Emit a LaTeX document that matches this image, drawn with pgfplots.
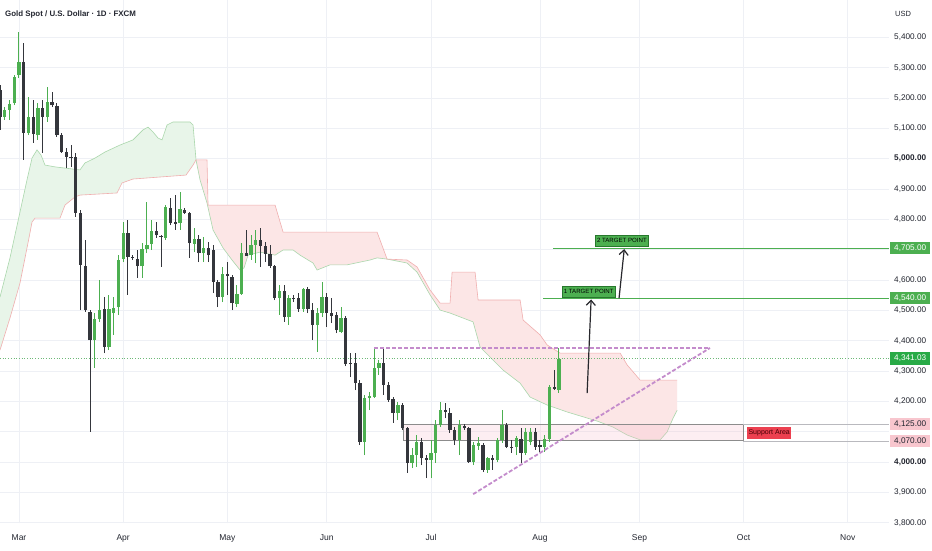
\documentclass[border=0pt]{standalone}
\usepackage{pgfplots}
\usepackage{pgfplotstable}
\pgfplotsset{compat=1.18}
\usetikzlibrary{arrows.meta}
\usepackage{fontspec}
\setmainfont{Liberation Sans}

\definecolor{upc}{RGB}{76,175,80}
\definecolor{dnc}{RGB}{52,54,60}
\definecolor{gridc}{RGB}{238,240,245}
\definecolor{txt}{RGB}{35,38,48}
\definecolor{cloudg}{RGB}{232,245,233}
\definecolor{cloudr}{RGB}{252,230,230}
\definecolor{spanA}{RGB}{170,215,172}
\definecolor{spanB}{RGB}{240,175,175}
\definecolor{purp}{RGB}{196,140,204}
\definecolor{tgt}{RGB}{76,175,80}
\definecolor{lastg}{RGB}{40,170,70}
\definecolor{pinkbox}{RGB}{248,198,206}
\definecolor{supred}{RGB}{236,64,80}

% up candles: index open high low close
\pgfplotstableread{
i o h l c
-3 5137 5170 5128 5161
-2 5161 5193 5128 5180
-1 5184 5276 5177 5269
0 5276 5418 5266 5319
2 5085 5203 5078 5137
4 5078 5184 5062 5167
6 5137 5236 5121 5187
16 4402 4491 4310 4471
17 4471 4600 4462 4501
19 4379 4551 4369 4504
20 4491 4544 4419 4508
21 4511 4682 4485 4666
22 4669 4791 4659 4755
26 4646 4722 4607 4702
27 4702 4857 4689 4716
28 4719 4798 4699 4762
31 4739 4847 4732 4841
34 4788 4890 4765 4834
37 4719 4771 4692 4735
39 4689 4742 4659 4706
43 4544 4643 4527 4620
46 4521 4584 4511 4554
47 4554 4722 4551 4689
49 4682 4748 4666 4716
50 4716 4765 4656 4732
55 4541 4584 4485 4564
57 4478 4551 4452 4541
60 4504 4574 4495 4570
63 4452 4508 4363 4491
64 4491 4593 4478 4544
68 4429 4511 4425 4475
73 4066 4221 4023 4211
74 4211 4231 4171 4218
75 4214 4376 4211 4310
76 4310 4336 4287 4326
80 4162 4198 4138 4188
83 3997 4046 3980 4023
84 4023 4089 3984 4066
87 4007 4073 3947 4030
88 4030 4138 3997 4122
89 4122 4198 4115 4171
93 4073 4138 4023 4122
96 4000 4066 3990 4056
97 4053 4082 4040 4063
99 3974 4016 3964 4013
101 4007 4079 4000 4073
102 4073 4171 4063 4122
105 4049 4086 4023 4079
107 4030 4112 4023 4099
108 4066 4112 4056 4099
111 4049 4089 4033 4076
112 4076 4254 4066 4247
114 4237 4376 4228 4341.03
}\up

% down candles: index open high low close
\pgfplotstableread{
i o h l c
-4 5226 5243 5095 5137
1 5319 5381 4996 5085
3 5137 5193 5052 5081
5 5167 5193 5019 5137
7 5187 5220 5170 5177
8 5174 5184 5072 5078
9 5078 5085 5019 5022
10 5022 5035 4969 5006
11 5006 5045 4973 5002
12 5006 5019 4808 4821
13 4821 4831 4501 4650
14 4646 4732 4495 4501
15 4495 4501 4099 4402
18 4504 4544 4359 4379
23 4755 4798 4551 4676
24 4676 4682 4666 4673
25 4669 4699 4607 4646
29 4762 4791 4739 4748
30 4745 4748 4643 4742
32 4837 4870 4781 4788
33 4791 4880 4765 4785
35 4831 4837 4818 4821
36 4821 4824 4673 4722
38 4735 4748 4659 4689
40 4706 4725 4659 4682
41 4700 4716 4557 4593
42 4593 4600 4511 4544
44 4620 4659 4551 4613
45 4610 4617 4501 4524
48 4689 4765 4682 4680
51 4732 4771 4643 4712
52 4712 4725 4659 4686
53 4686 4716 4640 4646
54 4646 4650 4534 4541
56 4564 4584 4462 4478
58 4541 4551 4527 4537
59 4541 4557 4495 4504
61 4570 4577 4491 4504
62 4501 4524 4402 4452
65 4544 4557 4445 4491
66 4491 4541 4458 4481
67 4485 4495 4425 4435
69 4475 4481 4316 4323
70 4326 4359 4280 4323
71 4326 4359 4237 4260
72 4260 4270 4056 4066
77 4326 4376 4221 4254
78 4254 4264 4198 4204
79 4208 4214 4129 4162
81 4188 4194 4105 4112
82 4112 4115 3964 3997
85 4066 4079 3990 4013
86 4013 4023 3947 4007
90 4171 4194 4145 4165
91 4162 4178 4096 4105
92 4105 4115 4056 4073
94 4119 4125 4105 4112
95 4112 4115 3997 4000
98 4056 4063 3967 3974
100 4013 4023 3974 4007
103 4122 4129 4046 4049
104 4049 4073 4030 4046
106 4076 4112 3997 4030
109 4099 4112 4040 4049
110 4056 4073 4033 4049
113 4247 4303 4237 4241
}\dn

\begin{document}
\begin{tikzpicture}
\useasboundingbox (0,0) rectangle (932pt,550pt);
\fill[white] (0,0) rectangle (932pt,550pt);
\begin{axis}[
  at={(0pt,27pt)}, anchor=south west,
  width=889pt, height=523pt, scale only axis,
  xmin=-4.01, xmax=183.7, ymin=3798.9, ymax=5523.2,
  axis line style={draw=none}, tick style={draw=none},
  xtick={0,22,44,65,87,110,131,153,175},
  xticklabels={Mar,Apr,May,Jun,Jul,Aug,Sep,Oct,Nov},
  ytick={3800,3900,4000,4100,4200,4300,4400,4500,4600,4700,4800,4900,5000,5100,5200,5300,5400},
  yticklabels={{3,800.00},{3,900.00},{\bfseries 4,000.00},{},{4,200.00},{4,300.00},{4,400.00},{4,500.00},{4,600.00},{},{4,800.00},{4,900.00},{\bfseries 5,000.00},{5,100.00},{5,200.00},{5,300.00},{5,400.00}},
  yticklabel pos=right,
  grid=major, major grid style={color=gridc, line width=0.7pt},
  xticklabel style={font=\fontsize{8.5}{10}\selectfont, text=txt, anchor=base, inner sep=0pt, yshift=-17.5pt},
  yticklabel style={font=\fontsize{8.2}{10}\selectfont, text=txt, anchor=west, inner sep=0pt, xshift=5pt},
  clip=false,
]
% Ichimoku cloud fills
\addplot[fill=cloudg, draw=none] coordinates {
(-4.01,4544) (-1.90,4673) (0.21,4824) (1.69,4930) (2.75,5002) (3.80,5029) (4.65,5012) (5.49,4979) (7.60,4973) (12.88,4963) (13.94,4986) (16.05,5002) (18.16,5022) (21.33,5045) (24.08,5062) (26.19,5095) (27.24,5104) (28.30,5088) (29.36,5068) (30.20,5062) (31.26,5111) (32.52,5121) (36.11,5121) (36.75,5111) (37.38,4996)
(36.75,4979) (35.27,4946) (24.08,4933) (21.75,4920) (20.70,4887) (12.88,4880) (11.83,4874) (9.71,4847) (8.66,4804) (3.38,4804) (2.75,4791) (1.90,4722) (0.21,4590) (-1.90,4475) (-4.01,4369)};
\addplot[fill=cloudr, draw=none] coordinates {
(37.38,4996) (39.70,4996) (39.92,4847) (54.07,4847) (55.76,4758) (75.61,4758) (77.72,4669) (81.94,4666) (84.05,4643) (86.80,4567) (88.91,4524) (91.02,4524) (91.45,4626) (96.30,4626) (96.94,4534) (105.81,4534) (106.44,4468) (110.03,4419) (111.51,4386) (114.25,4359) (126.93,4359) (128.41,4320) (131.15,4270) (138.97,4270)
(138.97,4171) (138.12,4145) (136.85,4099) (135.38,4073) (131.15,4073) (128.41,4089) (125.45,4115) (122.07,4135) (115.73,4165) (111.51,4188) (107.92,4214) (105.81,4260) (102.22,4303) (97.36,4379) (95.88,4462) (91.02,4491) (88.91,4501) (86.80,4551) (84.05,4626) (81.94,4656) (77.72,4669) (75.61,4673) (74.13,4666) (69.27,4650) (65.68,4650) (62.94,4633) (62.09,4656) (59.35,4682) (57.87,4699) (55.76,4699) (54.07,4682) (50.90,4692) (48.36,4682) (47.52,4640) (46.67,4633) (44.98,4666) (43.08,4706) (40.97,4765) (39.70,4854) (38.23,4930) (37.38,4996)};
% Span A
\addplot[spanA, line width=0.6pt] coordinates {
(-4.01,4544) (-1.90,4673) (0.21,4824) (1.69,4930) (2.75,5002) (3.80,5029) (4.65,5012) (5.49,4979) (7.60,4973) (12.88,4963) (13.94,4986) (16.05,5002) (18.16,5022) (21.33,5045) (24.08,5062) (26.19,5095) (27.24,5104) (28.30,5088) (29.36,5068) (30.20,5062) (31.26,5111) (32.52,5121) (36.11,5121) (36.75,5111) (37.38,4996)
(38.23,4930) (39.70,4854) (40.97,4765) (43.08,4706) (44.98,4666) (46.67,4633) (47.52,4640) (48.36,4682) (50.90,4692) (54.07,4682) (55.76,4699) (57.87,4699) (59.35,4682) (62.09,4656) (62.94,4633) (65.68,4650) (69.27,4650) (74.13,4666) (75.61,4673) (77.72,4669) (81.94,4656) (84.05,4626) (86.80,4551) (88.91,4501) (91.02,4491) (95.88,4462) (97.36,4379) (102.22,4303) (105.81,4260) (107.92,4214) (111.51,4188) (115.73,4165) (122.07,4135) (125.45,4115) (128.41,4089) (131.15,4073) (135.38,4073) (136.85,4099) (138.12,4145) (138.97,4171)};
% Span B
\addplot[spanB, line width=0.6pt] coordinates {
(-4.01,4369) (-1.90,4475) (0.21,4590) (1.90,4722) (2.75,4791) (3.38,4804) (8.66,4804) (9.71,4847) (11.83,4874) (12.88,4880) (20.70,4887) (21.75,4920) (24.08,4933) (35.27,4946) (36.75,4979) (37.38,4996)
(39.70,4996) (39.92,4847) (54.07,4847) (55.76,4758) (75.61,4758) (77.72,4669) (81.94,4666) (84.05,4643) (86.80,4567) (88.91,4524) (91.02,4524) (91.45,4626) (96.30,4626) (96.94,4534) (105.81,4534) (106.44,4468) (110.03,4419) (111.51,4386) (114.25,4359) (126.93,4359) (128.41,4320) (131.15,4270) (138.97,4270)};

% support area rectangle
\addplot[fill={rgb,255:red,248;green,190;blue,205}, fill opacity=0.25, draw={rgb,255:red,140;green,140;blue,140}, line width=0.8pt] coordinates {(81.1,4070) (152.9,4070) (152.9,4125) (81.1,4125) (81.1,4070)};
\addplot[color={rgb,255:red,185;green,185;blue,190}, line width=0.5pt] coordinates {(152.9,4125) (183.7,4125)};
\addplot[color={rgb,255:red,185;green,185;blue,190}, line width=0.5pt] coordinates {(152.9,4070) (183.7,4070)};

% current price line
\addplot[color={rgb,255:red,110;green,185;blue,120}, dotted, line width=0.7pt] coordinates {(-4.01,4341.03) (183.7,4341.03)};

% candles
\addplot[upc, line width=1pt, quiver={u=0, v={\thisrow{h}-\thisrow{l}}}] table[x=i, y=l] {\up};
\addplot[upc, line width=3.3pt, quiver={u=0, v={max(\thisrow{c}-\thisrow{o},4)}}] table[x=i, y=o] {\up};
\addplot[dnc, line width=1pt, quiver={u=0, v={\thisrow{h}-\thisrow{l}}}] table[x=i, y=l] {\dn};
\addplot[dnc, line width=3.3pt, quiver={u=0, v={max(\thisrow{o}-\thisrow{c},4)}}] table[x=i, y=c] {\dn};

% triangle lines
\addplot[purp, line width=1.8pt, dash pattern=on 4pt off 2pt] coordinates {(75.0,4376) (145.9,4376)};
\addplot[purp, line width=1.8pt, dash pattern=on 4pt off 2pt] coordinates {(95.9,3894) (145.9,4376)};

% targets
\addplot[tgt, line width=0.8pt] coordinates {(110.7,4540) (183.7,4540)};
\addplot[tgt, line width=0.8pt] coordinates {(112.8,4705) (183.7,4705)};
\addplot[color={rgb,255:red,40;green,40;blue,45}, line width=1.2pt, -{Straight Barb[length=5pt,width=9pt]}] coordinates {(119.96,4227) (120.8,4536)};
\addplot[color={rgb,255:red,40;green,40;blue,45}, line width=1.2pt, -{Straight Barb[length=5pt,width=9pt]}] coordinates {(126.7,4540) (127.8,4702)};

\node[fill=tgt, draw={rgb,255:red,40;green,120;blue,45}, line width=0.5pt, inner sep=0pt, minimum width=53pt, minimum height=11pt, font=\fontsize{6.1}{7}\selectfont, text=black] at (axis cs:120.3,4562) {1 TARGET POINT};
\node[fill=tgt, draw={rgb,255:red,40;green,120;blue,45}, line width=0.5pt, inner sep=0pt, minimum width=53pt, minimum height=11pt, font=\fontsize{6.1}{7}\selectfont, text=black] at (axis cs:127.3,4729) {2 TARGET POINT};
\node[fill=supred, inner sep=0pt, minimum width=44pt, minimum height=12pt, font=\fontsize{7}{8}\selectfont, text={rgb,255:red,70;green,0;blue,5}] at (axis cs:158.4,4096) {Support Area};

% right price scale boxes
\node[anchor=west, fill=tgt, text=white, inner sep=0pt, minimum width=40pt, minimum height=12.5pt, font=\fontsize{8.2}{10}\selectfont] at (axis cs:183.7,4705) [xshift=1pt] {4,705.00};
\node[anchor=west, fill=tgt, text=white, inner sep=0pt, minimum width=40pt, minimum height=12.5pt, font=\fontsize{8.2}{10}\selectfont] at (axis cs:183.7,4540) [xshift=1pt] {4,540.00};
\node[anchor=west, fill=lastg, text=white, inner sep=0pt, minimum width=40pt, minimum height=12.5pt, font=\fontsize{8.2}{10}\selectfont] at (axis cs:183.7,4341.03) [xshift=1pt] {4,341.03};
\node[anchor=west, fill=pinkbox, text=txt, inner sep=0pt, minimum width=40pt, minimum height=12.5pt, font=\fontsize{8.2}{10}\selectfont] at (axis cs:183.7,4125) [xshift=1pt] {4,125.00};
\node[anchor=west, fill=pinkbox, text=txt, inner sep=0pt, minimum width=40pt, minimum height=12.5pt, font=\fontsize{8.2}{10}\selectfont] at (axis cs:183.7,4070) [xshift=1pt] {4,070.00};
\end{axis}
\node[anchor=west, inner sep=0pt, text=txt, font=\fontsize{7.9}{9}\selectfont\bfseries] at (5pt,536pt) {Gold Spot / U.S. Dollar · 1D · FXCM};
\node[anchor=west, inner sep=0pt, text=txt, font=\fontsize{7.5}{9}\selectfont] at (895pt,536pt) {USD};
\end{tikzpicture}
\end{document}
